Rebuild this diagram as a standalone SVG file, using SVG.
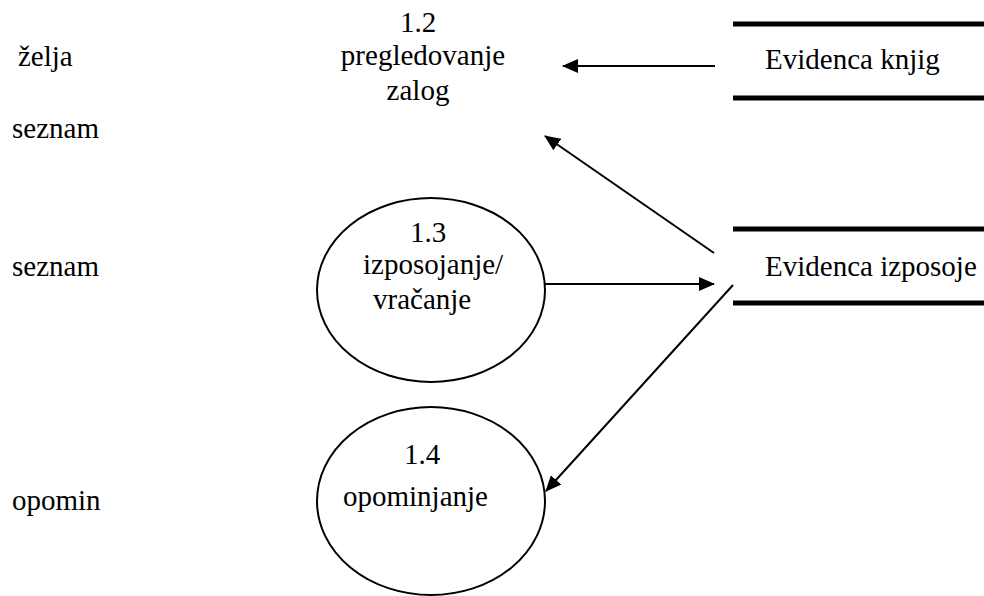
<svg xmlns="http://www.w3.org/2000/svg" width="984" height="596" viewBox="0 0 984 596">
<style>
text{font-size:29px;fill:#000}
.proc{fill:none;stroke:#000;stroke-width:2}
.store{stroke:#000;stroke-width:5}
.flow{stroke:#000;stroke-width:2;fill:none;marker-end:url(#ah)}
</style>
<defs>
<marker id="ah" viewBox="0 0 16 14" refX="15" refY="7" markerWidth="16" markerHeight="14" markerUnits="userSpaceOnUse" orient="auto">
<path d="M0,0 L16,7 L0,14 Z" fill="#000"/>
</marker>
</defs>
<rect width="984" height="596" fill="#fff"/>
<g font-family="Liberation Serif, Times New Roman, serif">
<g id="external">
<text x="18" y="66">želja</text>
<text x="12" y="138">seznam</text>
<text x="12" y="276">seznam</text>
<text x="12" y="510">opomin</text>
</g>
<g id="p12">
<text x="418" y="32" text-anchor="middle">1.2</text>
<text x="423" y="65" text-anchor="middle">pregledovanje</text>
<text x="418" y="100" text-anchor="middle">zalog</text>
</g>
<g id="p13">
<ellipse class="proc" cx="431" cy="290" rx="114" ry="92"/>
<text x="428" y="242" text-anchor="middle">1.3</text>
<text x="363" y="274">izposojanje/</text>
<text x="373" y="309">vračanje</text>
</g>
<g id="p14">
<ellipse class="proc" cx="431" cy="501" rx="114" ry="94"/>
<text x="422" y="464" text-anchor="middle">1.4</text>
<text x="343" y="506">opominjanje</text>
</g>
<g id="store-knjig">
<line class="store" x1="733" y1="24" x2="984" y2="24"/>
<line class="store" x1="733" y1="98" x2="984" y2="98"/>
<text x="765" y="69">Evidenca knjig</text>
</g>
<g id="store-izposoje">
<line class="store" x1="733" y1="229" x2="984" y2="229"/>
<line class="store" x1="733" y1="303" x2="984" y2="303"/>
<text x="765" y="276">Evidenca izposoje</text>
</g>
</g>
<g id="connectors">
<line class="flow" x1="715" y1="66" x2="563" y2="66"/>
<line class="flow" x1="714" y1="253" x2="545" y2="136"/>
<line class="flow" x1="545" y1="284" x2="714" y2="284"/>
<line class="flow" x1="733" y1="285" x2="546" y2="491"/>
</g>
</svg>
